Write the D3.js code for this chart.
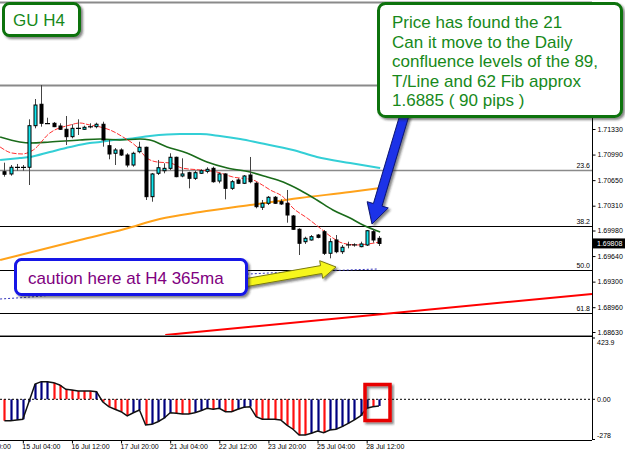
<!DOCTYPE html>
<html>
<head>
<meta charset="utf-8">
<script src="https://cdn.jsdelivr.net/npm/d3@7"></script>
<style>
  body { margin: 0; background: #fff; }
  svg { display: block; font-family: "Liberation Sans", Arial, sans-serif; }
</style>
</head>
<body>
<div id="chart"></div>
<script>
// ---- data ----
const opens  = [1.70762,1.70732,1.70818,1.70821,1.70821,1.71374,1.71659,1.71406,1.71406,1.71370,
                1.71326,1.71228,1.71343,1.71326,1.71358,1.71361,1.71393,1.71108,1.71007,1.71051,
                1.70984,1.70851,1.71028,1.71087,1.70430,1.70741,1.70775,1.70807,1.70954,1.70705,
                1.70749,1.70674,1.70741,1.70767,1.70807,1.70638,1.70732,1.70541,1.70652,1.70608,
                1.70718,1.70608,1.70289,1.70342,1.70422,1.70363,1.70342,1.70173,1.69996,1.69831,
                1.69854,1.69920,1.69964,1.69677,1.69854,1.69698,1.69787,1.69790,1.69765,1.69787,
                1.69964,1.69876];
const highs  = [1.70882,1.70851,1.70865,1.70851,1.71459,1.71729,1.71915,1.71480,1.71423,1.71406,
                1.71503,1.71393,1.71459,1.71374,1.71406,1.71414,1.71427,1.71184,1.71077,1.71073,
                1.71007,1.71028,1.71161,1.71095,1.70745,1.70918,1.70874,1.71007,1.70962,1.70940,
                1.70762,1.70775,1.70794,1.70821,1.70829,1.70749,1.70741,1.70652,1.70674,1.70718,
                1.70958,1.70629,1.70386,1.70439,1.70439,1.70395,1.70519,1.70186,1.70009,1.69898,
                1.69920,1.69934,1.69987,1.69876,1.69920,1.69787,1.69831,1.69810,1.69831,1.69987,
                1.69996,1.69907];
const lows   = [1.70696,1.70709,1.70775,1.70775,1.70585,1.71339,1.71361,1.71397,1.71355,1.71317,
                1.71117,1.71206,1.71250,1.71317,1.71339,1.71339,1.71095,1.70927,1.70851,1.70971,
                1.70821,1.70829,1.71007,1.70386,1.70363,1.70718,1.70741,1.70785,1.70688,1.70688,
                1.70541,1.70652,1.70732,1.70741,1.70616,1.70608,1.70395,1.70519,1.70598,1.70598,
                1.70608,1.70275,1.70253,1.70319,1.70333,1.70319,1.70084,1.69987,1.69654,1.69801,
                1.69845,1.69876,1.69654,1.69610,1.69677,1.69667,1.69743,1.69765,1.69757,1.69774,
                1.69818,1.69774];
const closes = [1.70728,1.70821,1.70821,1.70818,1.71374,1.71649,1.71406,1.71397,1.71361,1.71326,
                1.71228,1.71339,1.71334,1.71353,1.71361,1.71393,1.71184,1.70998,1.71051,1.70984,
                1.70851,1.71007,1.71087,1.70430,1.70732,1.70815,1.70807,1.70954,1.70696,1.70732,
                1.70674,1.70749,1.70775,1.70794,1.70629,1.70732,1.70541,1.70629,1.70608,1.70705,
                1.70629,1.70297,1.70342,1.70422,1.70342,1.70333,1.70186,1.69996,1.69810,1.69876,
                1.69898,1.69889,1.69677,1.69831,1.69698,1.69757,1.69790,1.69787,1.69801,1.69977,
                1.69854,1.69808];
const lastPrice = 1.69808;

// moving averages, sampled at bar positions
const ma21Bars = [-0.7,1.2,2.9,4.7,7.4,10.7,12.3,13.9,15.6,17.2,19.3,21.6,23.2,24.9,27,28.9,31.9,34.6,37.2,40.5,42,43.3,45.4,47,49.3,51.4,53.5,55,57.4,59.2,61.2];
const ma21Vals = [1.71091,1.71011,1.70998,1.71051,1.71277,1.71383,1.71410,1.71383,1.71357,1.71317,1.71224,1.71091,1.70944,1.70891,1.70878,1.70811,1.70785,1.70758,1.70692,1.70652,1.70585,1.70519,1.70426,1.70279,1.70146,1.70013,1.69880,1.69814,1.69787,1.69801,1.69827];
const ma89Bars = [-0.7,2.5,4.2,7.4,12.3,15.6,18.8,22.1,23.7,26.5,29.7,33,36.3,40,42.8,45.4,48.1,50.9,53.5,56.3,58.4,61.2];
const ma89Vals = [1.71224,1.71157,1.71144,1.71157,1.71184,1.71197,1.71184,1.71197,1.71184,1.71091,1.71011,1.70891,1.70811,1.70758,1.70692,1.70625,1.70519,1.70386,1.70253,1.70146,1.70053,1.69960];
const cyanBars = [-0.7,2.5,4.2,7.4,10.7,13.9,15.6,17.7,20,23.7,28.6,31.9,35.1,38.4,41.6,47,50.9,56.3,61.2];
const cyanVals = [1.70918,1.70944,1.70958,1.71024,1.71091,1.71144,1.71157,1.71184,1.71197,1.71237,1.71263,1.71263,1.71237,1.71197,1.71144,1.71051,1.70958,1.70878,1.70811];
const orangeBars = [-0.7,5.8,12.3,19.6,25.3,31.9,40,48.1,56.3,61.2];
const orangeVals = [1.69588,1.69721,1.69854,1.70000,1.70133,1.70226,1.70319,1.70412,1.70492,1.70545];
const ma365Bars = [-0.7,1.9,40,51.4,60.8];
const ma365Vals = [1.69069,1.69082,1.69402,1.69441,1.69468];
const trendBars = [26.2, 95.7];
const trendVals = [1.68590, 1.69136];

const fibLabels = ['0.0','23.6','38.2','50.0','61.8'];
const fibPrices = [1.71915,1.70785,1.70040,1.69455,1.68883];

const priceTicks = [1.71330,1.70990,1.70650,1.70310,1.69980,1.69640,1.69300,1.68960,1.68630];
const timeTickBars = [-5,3,11,19,27,35,43,51,59];
const timeTickLabels = ['11 Jul 20:00','15 Jul 04:00','16 Jul 12:00','17 Jul 20:00','21 Jul 04:00',
                        '22 Jul 12:00','23 Jul 20:00','25 Jul 04:00','28 Jul 12:00'];

// oscillator histogram (one per bar) and bar colours
const oscVals = [-148,-148,-143,-138,-17,106,122,122,115,99,69,64,57,57,57,53,-17,-51,-69,-86,
                 -115,-93,-74,-178,-173,-155,-131,-93,-97,-102,-102,-93,-79,-62,-69,-62,-86,-86,-69,-55,
                 -51,-120,-138,-138,-138,-143,-178,-207,-247,-247,-235,-219,-231,-212,-207,-189,-166,-143,-115,-62,
                 -51,-46];
const oscColors = 'rbbbbbbbrrrrrrrbrrrrrbbrbbbbrrrbbbrbrrbbbrrrrrrrrrbbrbbbbbbbr'.split('');
const oscTicks = [423.9, 0, -278];
const oscTickLabels = ['423.9','0.00','-278'];

const calloutLines = ['Price has found the 21','Can it move to the Daily','confluence levels of the 89,',
                      'T/Line and 62 Fib approx','1.6885 ( 90 pips )'];

// ---- layout ----
const W = 625, H = 453;
const plotRight = 592;
const mainTop = 3, mainBottom = 335;
const oscTop = 338, oscBottom = 440;

const svg = d3.select('#chart').append('svg').attr('width', W).attr('height', H);
const defs = svg.append('defs');
defs.append('filter').attr('id', 'shadow').attr('x', '-20%').attr('y', '-20%').attr('width', '140%').attr('height', '140%')
    .append('feDropShadow').attr('dx', 2).attr('dy', 2).attr('stdDeviation', 1)
    .attr('flood-color', '#222').attr('flood-opacity', 0.55);
defs.append('clipPath').attr('id', 'mainClip').append('rect')
    .attr('x', 0).attr('y', mainTop).attr('width', plotRight).attr('height', mainBottom - mainTop);

const x = d3.scaleLinear().domain([0, 61]).range([4.4, 4.4 + 61 * 6.14]);
const y = d3.scaleLinear().domain([1.68630, 1.71330]).range([332, 129]);
const yo = d3.scaleLinear().domain([-278, 423.9]).range([439.5, oscTop]);

const main = svg.append('g').attr('clip-path', 'url(#mainClip)');

// fib levels
main.selectAll('line.fib').data(fibPrices).join('line')
    .attr('x1', 0).attr('x2', plotRight)
    .attr('y1', d => Math.round(y(d)) + 0.5).attr('y2', d => Math.round(y(d)) + 0.5)
    .attr('stroke', (d, i) => i < 2 ? '#8a8a8a' : '#000')
    .attr('stroke-width', (d, i) => i === 0 ? 2 : (i === 1 ? 1.5 : 1));
main.selectAll('text.fib').data(fibPrices).join('text')
    .attr('x', plotRight - 2).attr('y', d => y(d) - 2)
    .attr('text-anchor', 'end').attr('font-size', 7).attr('fill', '#000')
    .text((d, i) => fibLabels[i]);

// moving averages
const lineOf = (bars, vals) => d3.line().curve(d3.curveMonotoneX)
    .x((d, i) => x(bars[i])).y(d => y(d))(vals);
main.append('path').attr('d', lineOf(orangeBars, orangeVals)).attr('fill', 'none').attr('stroke', '#ffa21a').attr('stroke-width', 2);
main.append('path').attr('d', lineOf(cyanBars, cyanVals)).attr('fill', 'none').attr('stroke', '#33cfd6').attr('stroke-width', 2);
main.append('path').attr('d', lineOf(ma89Bars, ma89Vals)).attr('fill', 'none').attr('stroke', '#1a6b1a').attr('stroke-width', 1.6);
main.append('path').attr('d', lineOf(ma21Bars, ma21Vals)).attr('fill', 'none').attr('stroke', '#ff3030').attr('stroke-width', 1)
    .attr('stroke-dasharray', '5,1.5');
main.append('path').attr('d', lineOf(ma365Bars, ma365Vals)).attr('fill', 'none').attr('stroke', '#3333bb').attr('stroke-width', 1)
    .attr('stroke-dasharray', '2,2');

// trend line
main.append('line')
    .attr('x1', x(trendBars[0])).attr('y1', y(trendVals[0]))
    .attr('x2', x(trendBars[1])).attr('y2', y(trendVals[1]))
    .attr('stroke', '#ff0000').attr('stroke-width', 2);

// candles
const candles = main.append('g');
opens.forEach((o, i) => {
  const c = closes[i], cx = Math.round(x(i)) + 0.5;
  candles.append('line').attr('x1', cx).attr('x2', cx)
      .attr('y1', y(highs[i])).attr('y2', y(lows[i]))
      .attr('stroke', '#444').attr('stroke-width', 1);
  const top = y(Math.max(o, c)), bot = y(Math.min(o, c));
  if (bot - top < 1.2) {
    candles.append('line').attr('x1', cx - 2.5).attr('x2', cx + 2.5)
        .attr('y1', (top + bot) / 2).attr('y2', (top + bot) / 2)
        .attr('stroke', '#000').attr('stroke-width', 1.2);
  } else {
    candles.append('rect').attr('x', cx - 1.5).attr('width', 3)
        .attr('y', top).attr('height', bot - top)
        .attr('fill', c > o ? '#10e6ee' : '#000')
        .attr('stroke', '#000').attr('stroke-width', 1);
  }
});

// frames
svg.append('line').attr('x1', 0).attr('x2', plotRight).attr('y1', 2.5).attr('y2', 2.5).attr('stroke', '#8a8a8a').attr('stroke-width', 2);
svg.append('line').attr('x1', 0).attr('x2', plotRight).attr('y1', mainBottom + 0.5).attr('y2', mainBottom + 0.5).attr('stroke', '#8a8a8a');
svg.append('line').attr('x1', 0).attr('x2', plotRight).attr('y1', oscTop - 1.5).attr('y2', oscTop - 1.5).attr('stroke', '#000');
svg.append('line').attr('x1', 0).attr('x2', plotRight).attr('y1', oscBottom + 0.5).attr('y2', oscBottom + 0.5).attr('stroke', '#000');
svg.append('line').attr('x1', plotRight + 0.5).attr('x2', plotRight + 0.5).attr('y1', mainTop).attr('y2', oscBottom).attr('stroke', '#000');

// price axis
const pAxis = svg.append('g').attr('transform', `translate(${plotRight + 0.5},0)`)
    .call(d3.axisRight(y).tickValues(priceTicks).tickFormat(d3.format('.5f')).tickSize(3).tickPadding(2));
pAxis.select('.domain').remove();
pAxis.selectAll('text').attr('font-size', 7).attr('font-family', '"Liberation Sans", Arial, sans-serif');

// current price marker
svg.append('rect').attr('x', plotRight + 1).attr('y', y(lastPrice) - 5).attr('width', 33).attr('height', 10).attr('fill', '#000');
svg.append('text').attr('x', plotRight + 5).attr('y', y(lastPrice)).attr('dy', '0.35em')
    .attr('font-size', 7).attr('fill', '#fff').text(lastPrice.toFixed(5));

// oscillator panel
const osc = svg.append('g');
osc.selectAll('line.bar').data(oscVals).join('line')
    .attr('x1', (d, i) => Math.round(x(i)) + 0.5).attr('x2', (d, i) => Math.round(x(i)) + 0.5)
    .attr('y1', yo(0)).attr('y2', d => yo(d))
    .attr('stroke', (d, i) => oscColors[i] === 'r' ? '#ff1010' : '#000080')
    .attr('stroke-width', 2.2);
osc.append('line').attr('x1', 0).attr('x2', plotRight).attr('y1', yo(0)).attr('y2', yo(0))
    .attr('stroke', '#000').attr('stroke-dasharray', '2,2');
osc.append('path').attr('d', d3.line().x((d, i) => x(i)).y(d => yo(d))(oscVals))
    .attr('fill', 'none').attr('stroke', '#111').attr('stroke-width', 1.5);

osc.selectAll('line.otick').data(oscTicks).join('line')
    .attr('x1', plotRight).attr('x2', plotRight + 3)
    .attr('y1', d => yo(d)).attr('y2', d => yo(d)).attr('stroke', '#000');
osc.selectAll('text.otick').data(oscTicks).join('text')
    .attr('x', plotRight + 5)
    .attr('y', (d, i) => yo(d) + (i === 0 ? 5 : (i === 2 ? -3.5 : 0)))
    .attr('dy', '0.35em').attr('font-size', 7).attr('fill', '#000')
    .text((d, i) => oscTickLabels[i]);

// time axis
const tAxis = svg.append('g').attr('transform', `translate(0,${oscBottom + 0.5})`)
    .call(d3.axisBottom(x).tickValues(timeTickBars).tickFormat((d, i) => timeTickLabels[i]).tickSize(3));
tAxis.select('.domain').remove();
tAxis.selectAll('text').attr('font-size', 7).attr('text-anchor', 'start').attr('x', -1).attr('y', 4)
    .attr('font-family', '"Liberation Sans", Arial, sans-serif');

// ---- annotations ----
function arrowPoints(x1, y1, x2, y2, sw, hw, hl) {
  const dx = x2 - x1, dy = y2 - y1, len = Math.hypot(dx, dy);
  const ux = dx / len, uy = dy / len, nx = -uy, ny = ux;
  const bx = x2 - ux * hl, by = y2 - uy * hl;
  return [[x1 + nx * sw / 2, y1 + ny * sw / 2], [bx + nx * sw / 2, by + ny * sw / 2],
          [bx + nx * hw / 2, by + ny * hw / 2], [x2, y2],
          [bx - nx * hw / 2, by - ny * hw / 2], [bx - nx * sw / 2, by - ny * sw / 2],
          [x1 - nx * sw / 2, y1 - ny * sw / 2]];
}
const ann = svg.append('g');

ann.append('polygon').attr('points', arrowPoints(406, 110, 372, 224, 9, 22, 20).join(' '))
    .attr('fill', '#1a30e8').attr('stroke', '#0a1470').attr('stroke-width', 1).attr('filter', 'url(#shadow)');
ann.append('polygon').attr('points', arrowPoints(238, 284, 336, 267, 8, 18, 15).join(' '))
    .attr('fill', '#f6f61c').attr('stroke', '#7a7a10').attr('stroke-width', 1).attr('filter', 'url(#shadow)');

// GU H4 box
ann.append('rect').attr('x', 3.5).attr('y', 3.5).attr('width', 76).attr('height', 32).attr('rx', 6)
    .attr('fill', '#fff').attr('stroke', '#0b730b').attr('stroke-width', 3).attr('filter', 'url(#shadow)');
ann.append('text').attr('x', 13).attr('y', 25.5).attr('font-size', 17).attr('fill', '#17891a').text('GU H4');

// callout
ann.append('rect').attr('x', 378.5).attr('y', 3.5).attr('width', 243).attr('height', 113).attr('rx', 7)
    .attr('fill', '#fff').attr('stroke', '#0b730b').attr('stroke-width', 3).attr('filter', 'url(#shadow)');
ann.selectAll('text.call').data(calloutLines).join('text')
    .attr('x', 392).attr('y', (d, i) => 28 + i * 19.5)
    .attr('font-size', 17).attr('fill', '#17891a').text(d => d);

// caution box
ann.append('rect').attr('x', 15.5).attr('y', 259.5).attr('width', 231).attr('height', 35).attr('rx', 6)
    .attr('fill', '#fff').attr('stroke', '#1414e6').attr('stroke-width', 3).attr('filter', 'url(#shadow)');
ann.append('text').attr('x', 28).attr('y', 284).attr('font-size', 17).attr('fill', '#800080')
    .text('caution here at H4 365ma');

// red highlight in oscillator
ann.append('rect').attr('x', 365).attr('y', 384.5).attr('width', 25).attr('height', 36)
    .attr('fill', 'none').attr('stroke', '#e80000').attr('stroke-width', 3.5).attr('filter', 'url(#shadow)');
</script>
</body>
</html>
